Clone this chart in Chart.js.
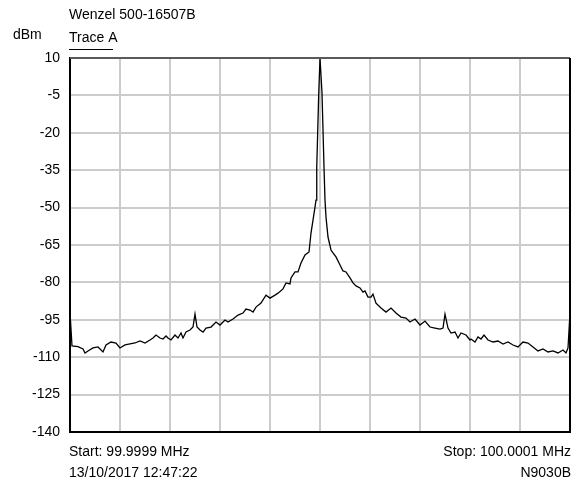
<!DOCTYPE html>
<html>
<head>
<meta charset="utf-8">
<script src="https://cdn.jsdelivr.net/npm/chart.js@4"></script>
<style>
  html, body { margin: 0; padding: 0; background: #fff; }
  canvas { display: block; }
</style>
</head>
<body>
<canvas id="grafico" width="581" height="486"></canvas>
<script>
// =========================
// Datos de la traza (offset en Hz desde 100 MHz, nivel en dBm)
// =========================
const freqHz = [
  -100, -99.2, -96.8, -94.8, -94, -92.8, -90.8, -88.8, -86.8, -85.6,
  -83.6, -81.6, -80, -78, -76, -74, -72, -70, -68, -66.8,
  -65.6, -64, -62.8, -61.6, -60.8, -59.6, -58, -56.8, -55.6, -54.8,
  -53.6, -52, -50.8, -50, -49.2, -48, -46.8, -45.6, -43.6, -41.6,
  -40, -38, -36.8, -34.8, -32.8, -30.8, -29.6, -28, -26.8, -25.6,
  -23.6, -21.6, -20, -18, -16.8, -14.8, -13.6, -12, -11.6, -10,
  -8.8, -7.6, -6, -4.4, -3.6, -2.8, -2, -1.6, -1.3, -0.9,
  -0.5, 0, 0.8, 1.2, 1.6, 2, 2.4, 3.2, 4.4, 5.2,
  6.4, 8, 9.2, 10.4, 12, 13.2, 14.4, 16, 17.2, 18,
  19.2, 20.4, 21.2, 22.4, 24.4, 26.4, 28.4, 30.4, 32.4, 34.4,
  36, 38, 40, 42, 44, 46, 48, 49.2, 50, 51.2,
  52.4, 54, 55.2, 56.4, 58.4, 60, 60.4, 62, 63.2, 64.4,
  65.6, 67.2, 69.2, 71.2, 73.2, 75.2, 77.2, 79.2, 81.2, 83.2,
  85.2, 87.2, 89.2, 91.2, 93.2, 95.2, 97.2, 98.4, 99.2, 100
];
const nivelDbm = [
  -91.9, -105.5, -105.8, -106.7, -108.3, -107.5, -106.3, -105.9, -107.9, -105.1,
  -103.9, -104.3, -106.3, -105.1, -104.7, -104.3, -103.5, -104.3, -103.1, -102.3,
  -101.1, -102.3, -102.7, -101.5, -102.3, -103.1, -101.1, -102.3, -100.3, -102.3,
  -99.9, -99.1, -97.9, -92.7, -97.9, -99.1, -99.9, -98.3, -97.9, -95.9,
  -97.1, -95.1, -95.9, -94.7, -93.1, -92.3, -90.7, -91.1, -91.9, -89.9,
  -88.3, -85.1, -86.3, -85.1, -84.3, -82.6, -80.2, -80.6, -78.2, -75.8,
  -75.8, -72.2, -69.0, -67.8, -60.2, -55.0, -49.8, -47.0, -33.7, -18.9,
  -4.0, 10, -4.0, -18.9, -33.7, -47.0, -53.8, -61.8, -67.0, -68.2,
  -69.8, -73.0, -75.4, -75.8, -78.2, -80.2, -81.4, -82.2, -83.9, -83.4,
  -85.9, -85.9, -84.7, -88.3, -90.3, -91.9, -90.3, -92.3, -93.9, -94.3,
  -95.9, -94.7, -97.1, -95.5, -97.9, -98.3, -98.7, -98.3, -92.7, -98.3,
  -100.3, -99.9, -102.3, -100.3, -101.1, -103.1, -102.7, -103.9, -101.9, -102.7,
  -101.1, -103.1, -103.9, -103.5, -104.7, -103.9, -105.1, -105.9, -103.9, -104.3,
  -105.9, -107.5, -106.7, -107.9, -107.5, -108.3, -107.1, -108.3, -106.3, -92.3
];

// Ejes
const ejeY = { min: -140, max: 10, paso: 15 };
const ejeX = { min: -100, max: 100, paso: 20 };

// Textos
const titulo = "Wenzel 500-16507B";
const unidad = "dBm";
const nombreTraza = "Trace A";
const textoInicio = "Start: 99.9999 MHz";
const textoFin = "Stop: 100.0001 MHz";
const fechaHora = "13/10/2017 12:47:22";
const equipo = "N9030B";

const fuente = '"Liberation Sans", Arial, sans-serif';

// =========================
// Plugin: marco y textos alrededor
// =========================
const textosPlugin = {
  id: "textos",
  afterDraw(chart) {
    const ctx = chart.ctx;
    const area = chart.chartArea;
    ctx.save();

    // marco superior y derecho
    ctx.lineWidth = 2;
    ctx.strokeStyle = "#5a5a5a";
    ctx.beginPath();
    ctx.moveTo(area.left, area.top);
    ctx.lineTo(area.right, area.top);
    ctx.stroke();
    ctx.strokeStyle = "#000";
    ctx.beginPath();
    ctx.moveTo(area.right, area.top);
    ctx.lineTo(area.right, area.bottom);
    ctx.stroke();

    ctx.fillStyle = "#000";
    ctx.font = "14px " + fuente;
    ctx.textBaseline = "middle";
    ctx.textAlign = "left";
    ctx.fillText(titulo, 69, 15);
    ctx.fillText(unidad, 13, 35);
    ctx.fillText(nombreTraza, 69, 38);
    ctx.fillText(textoInicio, 69, 452);
    ctx.fillText(fechaHora, 69, 473);

    ctx.textAlign = "right";
    ctx.fillText(textoFin, 571, 452);
    ctx.fillText(equipo, 571, 473);

    // subrayado de la traza
    ctx.lineWidth = 1;
    ctx.beginPath();
    ctx.moveTo(69, 49.5);
    ctx.lineTo(113, 49.5);
    ctx.stroke();

    ctx.restore();
  }
};

// =========================
// Gráfico
// =========================
const puntos = freqHz.map((f, i) => ({ x: f, y: nivelDbm[i] }));

new Chart(document.getElementById("grafico").getContext("2d"), {
  type: "line",
  data: {
    datasets: [{
      data: puntos,
      borderColor: "#000",
      borderWidth: 1.3,
      pointRadius: 0,
      tension: 0,
      fill: false
    }]
  },
  options: {
    responsive: false,
    animation: false,
    layout: { padding: { left: 0, top: 58, right: 11, bottom: 54 } },
    plugins: {
      legend: { display: false },
      tooltip: { enabled: false }
    },
    scales: {
      x: {
        type: "linear",
        min: ejeX.min,
        max: ejeX.max,
        ticks: { display: false, stepSize: ejeX.paso },
        grid: { color: "#cccccc", lineWidth: 2, drawTicks: false },
        border: { display: true, color: "#000", width: 2 },
        afterFit: s => { s.height = 0; }
      },
      y: {
        min: ejeY.min,
        max: ejeY.max,
        ticks: {
          stepSize: ejeY.paso,
          color: "#000",
          padding: 10,
          font: { family: fuente, size: 14 }
        },
        grid: { color: "#cccccc", lineWidth: 2, drawTicks: false },
        border: { display: true, color: "#000", width: 2 },
        afterFit: s => { s.width = 70; }
      }
    }
  },
  plugins: [textosPlugin]
});
</script>
</body>
</html>
